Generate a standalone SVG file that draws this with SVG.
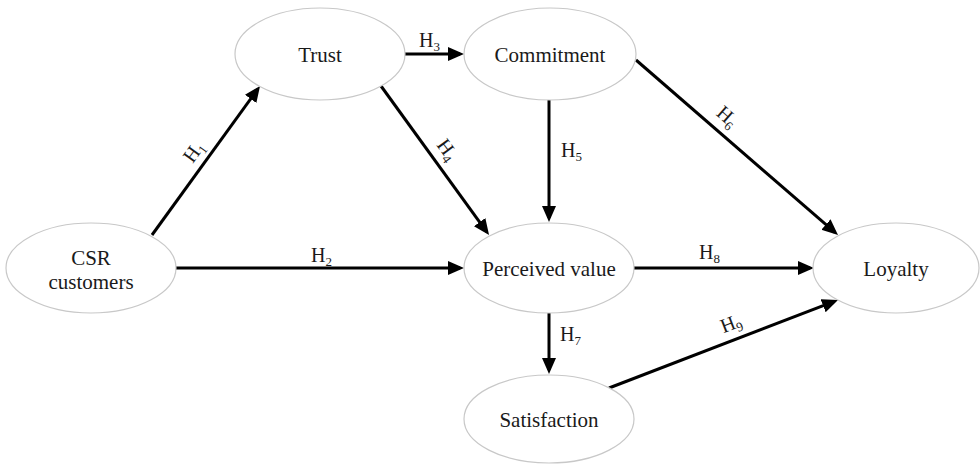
<svg xmlns="http://www.w3.org/2000/svg" width="980" height="464" viewBox="0 0 980 464">
<style>
.node ellipse{fill:#fff;stroke:#c8c8c8;stroke-width:1.2}
.node text{font-family:"Liberation Serif","Times New Roman",serif;font-size:21px;fill:#1a1a1a;text-anchor:middle}
.conn line{stroke:#000;stroke-width:3;marker-end:url(#ah)}
.lbl{font-family:"Liberation Serif","Times New Roman",serif;font-size:20px;fill:#1a1a1a}
.sub{font-size:13px}
</style>
<defs>
<marker id="ah" markerUnits="userSpaceOnUse" markerWidth="18" markerHeight="16" refX="12" refY="7" orient="auto">
<path d="M0,0 L16,7 L0,14 z" fill="#000"/>
</marker>
</defs>
<rect width="980" height="464" fill="#fff"/>
<g id="connectors" class="conn">
<line x1="152" y1="235" x2="257.7" y2="89.2"/>
<line x1="176" y1="268" x2="460" y2="268"/>
<line x1="405" y1="54" x2="460" y2="54"/>
<line x1="381" y1="86" x2="486.7" y2="231.8"/>
<line x1="549" y1="100" x2="549" y2="218"/>
<line x1="636" y1="60" x2="835" y2="232.4"/>
<line x1="549" y1="313" x2="549" y2="370"/>
<line x1="634" y1="268" x2="810" y2="268"/>
<line x1="609" y1="388" x2="834.3" y2="301.4"/>
</g>
<g id="labels" class="lbl">
<text transform="translate(194,152) rotate(-54)" text-anchor="middle" y="6">H<tspan class="sub" dy="4">1</tspan></text>
<text x="311" y="262">H<tspan class="sub" dy="4">2</tspan></text>
<text x="419" y="47">H<tspan class="sub" dy="4">3</tspan></text>
<text transform="translate(447,150) rotate(54)" text-anchor="middle" y="6">H<tspan class="sub" dy="4">4</tspan></text>
<text x="561" y="157">H<tspan class="sub" dy="4">5</tspan></text>
<text transform="translate(727,117) rotate(41.5)" text-anchor="middle" y="6">H<tspan class="sub" dy="4">6</tspan></text>
<text x="560" y="341">H<tspan class="sub" dy="4">7</tspan></text>
<text x="699" y="259">H<tspan class="sub" dy="4">8</tspan></text>
<text transform="translate(731,324) rotate(-21)" text-anchor="middle" y="6">H<tspan class="sub" dy="4">9</tspan></text>
</g>
<g id="csr" class="node"><ellipse cx="91" cy="268" rx="85" ry="45"/><text x="91" y="265">CSR</text><text x="91" y="289">customers</text></g>
<g id="trust" class="node"><ellipse cx="320" cy="54" rx="85" ry="46"/><text x="320" y="62">Trust</text></g>
<g id="commitment" class="node"><ellipse cx="550" cy="54" rx="86" ry="46"/><text x="550" y="62">Commitment</text></g>
<g id="perceived" class="node"><ellipse cx="549" cy="268" rx="85" ry="45"/><text x="549" y="276">Perceived value</text></g>
<g id="satisfaction" class="node"><ellipse cx="549" cy="419" rx="85" ry="44"/><text x="549" y="427">Satisfaction</text></g>
<g id="loyalty" class="node"><ellipse cx="896" cy="268" rx="83" ry="45"/><text x="896" y="276">Loyalty</text></g>
</svg>
